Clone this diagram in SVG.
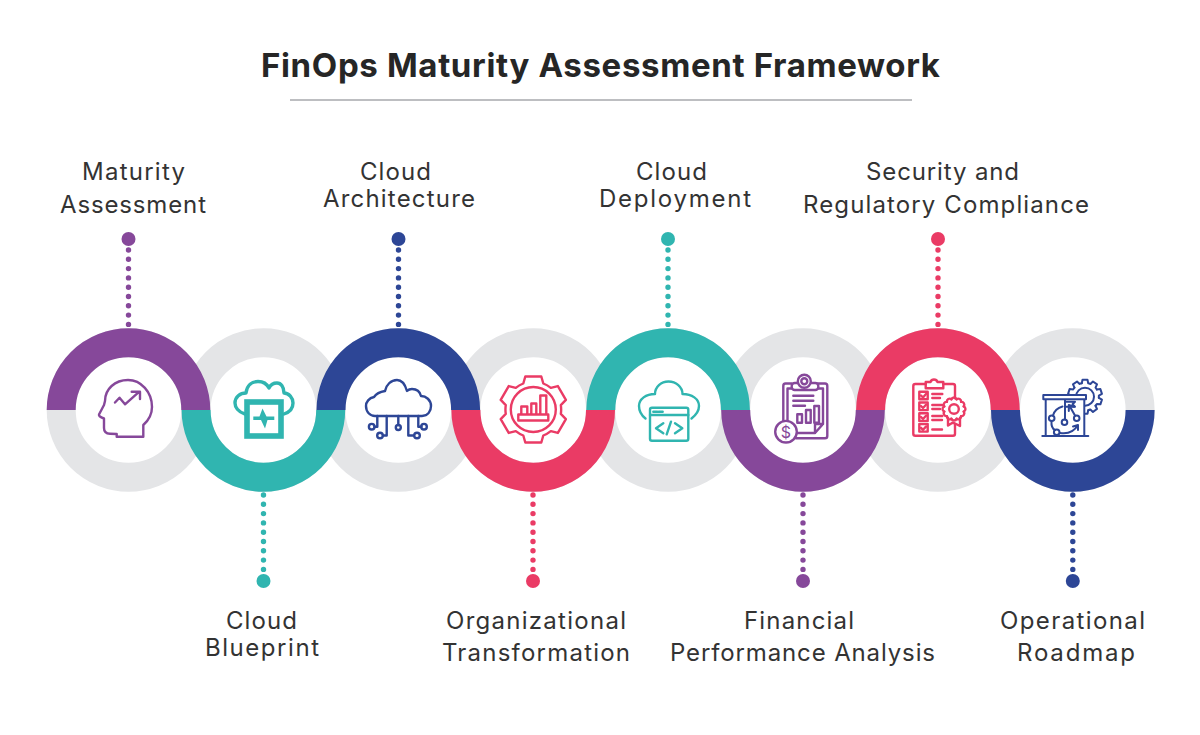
<svg xmlns="http://www.w3.org/2000/svg" xmlns:xlink="http://www.w3.org/1999/xlink" width="1200" height="735" viewBox="0 0 1200 735">
<style>
text{font-family:Inter,"Liberation Sans",sans-serif;font-size:24px;fill:#333;font-weight:400}
.title{font-size:33px;font-weight:700;fill:#262626}
.arc{fill:none;stroke-width:29}
.ring{fill:none;stroke:#e4e5e7;stroke-width:29}
.ico{fill:none;stroke-width:2.4;stroke-linejoin:round;stroke-linecap:round}
.dots{fill:none;stroke-width:5.4;stroke-linecap:round;stroke-dasharray:0 9.3}
.p{stroke:#86489a}.t{stroke:#30b5b0}.b{stroke:#2d4696}.r{stroke:#ea3b65}
.pf{fill:#86489a}.tf{fill:#30b5b0}.bf{fill:#2d4696}.rf{fill:#ea3b65}
</style>
<defs>
<path id="tooth" d="M-3.2,-13.5L-2.5,-17L2.5,-17L3.2,-13.5A13.8,13.8 0 0 1 5.35,-12.8"/>
<path id="scallop" d="M-2.6,-9.7A2.8,2.8 0 0 1 2.6,-9.7"/>
</defs>
<rect width="1200" height="735" fill="#fff"/>
<g id="header">
<text class="title" x="261" y="76.5" textLength="679" lengthAdjust="spacing">FinOps Maturity Assessment Framework</text>
<line x1="290" y1="100" x2="912" y2="100" stroke="#a7a9ac" stroke-width="1.5"/>
</g>
<g id="rings">
<circle class="ring" cx="128.5" cy="410" r="67.3"/><circle class="ring" cx="263.4" cy="410" r="67.3"/>
<circle class="ring" cx="398.3" cy="410" r="67.3"/><circle class="ring" cx="533.2" cy="410" r="67.3"/>
<circle class="ring" cx="668.1" cy="410" r="67.3"/><circle class="ring" cx="803" cy="410" r="67.3"/>
<circle class="ring" cx="937.9" cy="410" r="67.3"/><circle class="ring" cx="1072.8" cy="410" r="67.3"/>
</g>
<g id="connectors">
<line class="dots p" x1="128.5" y1="250" x2="128.5" y2="325"/>
<line class="dots t" x1="263.5" y1="495" x2="263.5" y2="571"/>
<line class="dots b" x1="398.5" y1="250" x2="398.5" y2="325"/>
<line class="dots r" x1="533" y1="495" x2="533" y2="571"/>
<line class="dots t" x1="668" y1="250" x2="668" y2="325"/>
<line class="dots p" x1="803" y1="495" x2="803" y2="571"/>
<line class="dots r" x1="938" y1="250" x2="938" y2="325"/>
<line class="dots b" x1="1072.8" y1="495" x2="1072.8" y2="571"/>
</g>
<g id="node-maturity-assessment">
<path class="arc p" d="M61.2,410A67.3,67.3 0 0 1 195.8,410"/>
<circle class="pf" cx="128.5" cy="239" r="7"/>
<path class="ico p" d="M116.7,436.7H143.3V425C149,420 152,414 152,407C152,392 141,380 128,380C115,380 105,389 105,401L104,405L99,414.5Q98.5,416.5 104,418.5V428Q104,433.5 110,433.7L116.7,434Z"/>
<path class="ico p" d="M115,402.5L119.5,397.7L125,404.3L139.3,391.7M131.7,391.7H140V399"/>
<text x="82" y="179.5" textLength="103" lengthAdjust="spacing">Maturity</text>
<text x="60" y="212.5" textLength="146" lengthAdjust="spacing">Assessment</text>
</g>
<g id="node-cloud-blueprint">
<path class="arc t" d="M196.1,410A67.3,67.3 0 0 0 330.7,410"/>
<circle class="tf" cx="263.5" cy="581" r="7"/>
<path class="ico t" style="stroke-width:3.4" d="M245,414C238,412 235,407 235,403C235,397 240,393 246,393C247,385 252,381.5 258,381.5C263,381.5 267,384 269,388C271,384 274,383 277,383C281,383 284,387 284,393C289,393 293,398 293,403C293,408 290,412 284,414"/>
<rect x="247" y="402" width="34" height="34" fill="#fff" stroke="#30b5b0" stroke-width="5.6"/>
<path class="tf" d="M253.3,416.5H259.5L262.5,408.5L266.5,416.5H274.3V420H267.5L265,428.5L261,420H253.3Z"/>
<text x="226" y="628.5" textLength="71" lengthAdjust="spacing">Cloud</text>
<text x="205" y="655.5" textLength="114" lengthAdjust="spacing">Blueprint</text>
</g>
<g id="node-cloud-architecture">
<path class="arc b" d="M331,410A67.3,67.3 0 0 1 465.6,410"/>
<circle class="bf" cx="398.5" cy="239" r="7"/>
<path class="ico b" d="M375,416H422C428,416 431,411 431,406C431,400 426,396 421,396C420,392 417,389 412,389C410,389 408,390 407,391C405,384 401,380 397,380C391,380 386,385 385,391C379,392 376,394 374,397C369,398 366,402 366,406C366,412 370,416 375,416Z"/>
<path class="ico b" d="M398.3,416V425M386.7,416V435.5H383M408.3,416V435.5H414M377.3,416V426.7H374.5M418.3,416V426.7H421.5"/>
<circle class="ico b" cx="398.3" cy="427.5" r="2.5"/><circle class="ico b" cx="380" cy="435.5" r="2.8"/><circle class="ico b" cx="417" cy="435.5" r="2.8"/><circle class="ico b" cx="371.7" cy="426.7" r="2.8"/><circle class="ico b" cx="424" cy="426.7" r="2.8"/>
<text x="360" y="179.5" textLength="71" lengthAdjust="spacing">Cloud</text>
<text x="323" y="206.5" textLength="152" lengthAdjust="spacing">Architecture</text>
</g>
<g id="node-organizational-transformation">
<path class="arc r" d="M465.9,410A67.3,67.3 0 0 0 600.5,410"/>
<circle class="rf" cx="533" cy="581" r="7"/>
<g transform="translate(533.3,409.5)">
<path class="ico r" d="M-10,-26L-8,-33H8L10,-26A28,28 0 0 1 17.5,-21.66L24.58,-23.43L32.58,-9.57L27.52,-4.34A28,28 0 0 1 27.52,4.34L32.58,9.57L24.58,23.43L17.52,21.66A28,28 0 0 1 10,26L8,33H-8L-10,26A28,28 0 0 1 -17.5,21.66L-24.58,23.43L-32.58,9.57L-27.52,4.34A28,28 0 0 1 -27.52,-4.34L-32.58,-9.57L-24.58,-23.43L-17.52,-21.66A28,28 0 0 1 -10,-26Z"/>
<circle class="ico r" r="22.5"/>
<path class="ico r" d="M-15,5H15V11H-15ZM-12,5V-3H-6V5M-2,5V-6H3V5M7,5V-14H13V5"/>
</g>
<text x="446" y="628.5" textLength="180" lengthAdjust="spacing">Organizational</text>
<text x="442" y="660.5" textLength="188" lengthAdjust="spacing">Transformation</text>
</g>
<g id="node-cloud-deployment">
<path class="arc t" d="M600.8,410A67.3,67.3 0 0 1 735.4,410"/>
<circle class="tf" cx="668" cy="239" r="7"/>
<path class="ico t" d="M645.5,418.5C641,415 639,411 639,406C639,399 646,394 655,394C655,387 661,381.5 668.5,381.5C676,381.5 682.5,387 682.5,394C692,394 699,399 699,406C699,411 696,415 691.5,418.5"/>
<rect class="ico t" x="650" y="407.7" width="38.3" height="33" rx="2"/>
<path class="ico t" d="M650,415H688.3M653.3,411.7H657.3M658.8,411.7H662.7M663.3,423.3L656,428.3L663.3,433.3M675,423.3L682.3,428.3L675,433.3M671,421.7L666.7,434.3"/>
<text x="636" y="179.5" textLength="71" lengthAdjust="spacing">Cloud</text>
<text x="599" y="206.5" textLength="152" lengthAdjust="spacing">Deployment</text>
</g>
<g id="node-financial-performance">
<path class="arc p" d="M735.7,410A67.3,67.3 0 0 0 870.3,410"/>
<circle class="pf" cx="803" cy="581" r="7"/>
<path class="ico p" d="M791.7,383.5H785.5Q783.3,383.5 783.3,386V425M817.5,383.5H825Q827.3,383.5 827.3,386V436Q827.3,438.3 825,438.3H796"/>
<path class="ico p" d="M787.5,421V388.5H823V424L815,433H797M815,433V424H823"/>
<rect class="ico p" x="791.7" y="383" width="26.6" height="7" rx="3" style="fill:#fff"/>
<circle class="ico p" cx="804.3" cy="381.3" r="6.5" style="fill:#fff"/><circle class="ico p" cx="804.3" cy="381.3" r="3"/>
<path class="ico p" d="M793.3,395.7H813.3M793.3,400.7H813.3M793.3,405.7H805"/>
<rect class="ico p" x="797.3" y="414.3" width="4.7" height="8.4"/><rect class="ico p" x="806" y="410" width="4.7" height="12.7"/><rect class="ico p" x="814.3" y="406" width="4.7" height="16.7"/>
<circle class="ico p" cx="786" cy="431.7" r="10.8" style="fill:#fff"/>
<text x="786" y="437.5" text-anchor="middle" style="font-size:16px;fill:#86489a">$</text>
<text x="744" y="628.5" textLength="110" lengthAdjust="spacing">Financial</text>
<text x="670" y="660.5" textLength="265" lengthAdjust="spacing">Performance Analysis</text>
</g>
<g id="node-security-compliance">
<path class="arc r" d="M870.6,410A67.3,67.3 0 0 1 1005.2,410"/>
<circle class="rf" cx="938" cy="239" r="7"/>
<path class="ico r" d="M925.7,384H915.3Q913.3,384 913.3,386V433.7Q913.3,435.7 915.3,435.7H953Q955,435.7 955,433.7V386Q955,384 953,384H943.3"/>
<path class="ico r" d="M925.7,388.3V382H930.5A3.7,3.7 0 0 1 937.5,382H943.3V388.3Z"/>
<g class="ico r">
<rect x="919.3" y="391.7" width="8.4" height="7.6"/><rect x="919.3" y="402.5" width="8.4" height="7.6"/><rect x="919.3" y="413.3" width="8.4" height="7.6"/><rect x="919.3" y="424" width="8.4" height="7.6"/>
<path d="M921,395.5L923,397.5L926,394M921,406L923,408L926,404.8M921,417L923,419L926,415.8M921,427.8L923,429.8L926,426.6"/>
<path d="M932.3,394H942.3M932.3,398H940M932.3,405H942.3M932.3,409H940M932.3,416H942.3M932.3,420H942M932.3,429.5H942"/>
</g>
<path class="ico r" style="fill:#fff" d="M948,416.5V425.5L952.5,422.7L954,423L960,426V416.5"/>
<g transform="translate(954,409)" class="ico r">
<circle r="9.7" style="fill:#fff;stroke:none"/>
<use xlink:href="#scallop"/><use xlink:href="#scallop" transform="rotate(30)"/><use xlink:href="#scallop" transform="rotate(60)"/><use xlink:href="#scallop" transform="rotate(90)"/><use xlink:href="#scallop" transform="rotate(120)"/><use xlink:href="#scallop" transform="rotate(150)"/><use xlink:href="#scallop" transform="rotate(180)"/><use xlink:href="#scallop" transform="rotate(210)"/><use xlink:href="#scallop" transform="rotate(240)"/><use xlink:href="#scallop" transform="rotate(270)"/><use xlink:href="#scallop" transform="rotate(300)"/><use xlink:href="#scallop" transform="rotate(330)"/>
<circle r="4.8"/>
</g>
<text x="866" y="179.5" textLength="153" lengthAdjust="spacing">Security and</text>
<text x="803" y="212.5" textLength="286" lengthAdjust="spacing">Regulatory Compliance</text>
</g>
<g id="node-operational-roadmap">
<path class="arc b" d="M1005.5,410A67.3,67.3 0 0 0 1140.1,410"/>
<circle class="bf" cx="1072.8" cy="581" r="7"/>
<g transform="translate(1085,396.7)" class="ico b" style="stroke-width:2">
<use xlink:href="#tooth"/><use xlink:href="#tooth" transform="rotate(36)"/><use xlink:href="#tooth" transform="rotate(72)"/><use xlink:href="#tooth" transform="rotate(108)"/><use xlink:href="#tooth" transform="rotate(144)"/><use xlink:href="#tooth" transform="rotate(180)"/><use xlink:href="#tooth" transform="rotate(216)"/><use xlink:href="#tooth" transform="rotate(252)"/><use xlink:href="#tooth" transform="rotate(288)"/><use xlink:href="#tooth" transform="rotate(324)"/>
<circle r="9"/>
</g>
<g class="ico b" style="stroke-width:2">
<rect x="1045.7" y="399" width="38.6" height="37" style="fill:#fff"/>
<rect x="1043.3" y="395" width="42.7" height="4.3" style="fill:#fff"/>
<path d="M1042.3,436H1088.3M1065,400V419.5M1065,401.7H1075L1072.5,404.2L1075,406.7H1065"/>
<circle cx="1064.5" cy="422.3" r="2.8"/><circle cx="1051.7" cy="418.3" r="2.8"/><circle cx="1056.7" cy="432.3" r="2.8"/><circle cx="1076.7" cy="418.3" r="2.8"/>
<path d="M1053,415.5Q1055,408.5 1062.5,406.5M1051.5,421.5Q1051,428 1055,430M1060,433Q1072,435 1078,425M1078,430V425L1073,426.5M1075,415.5L1069,405M1068.8,411V405L1074,406.8"/>
</g>
<text x="1000" y="628.5" textLength="145" lengthAdjust="spacing">Operational</text>
<text x="1017" y="660.5" textLength="118" lengthAdjust="spacing">Roadmap</text>
</g>
</svg>
